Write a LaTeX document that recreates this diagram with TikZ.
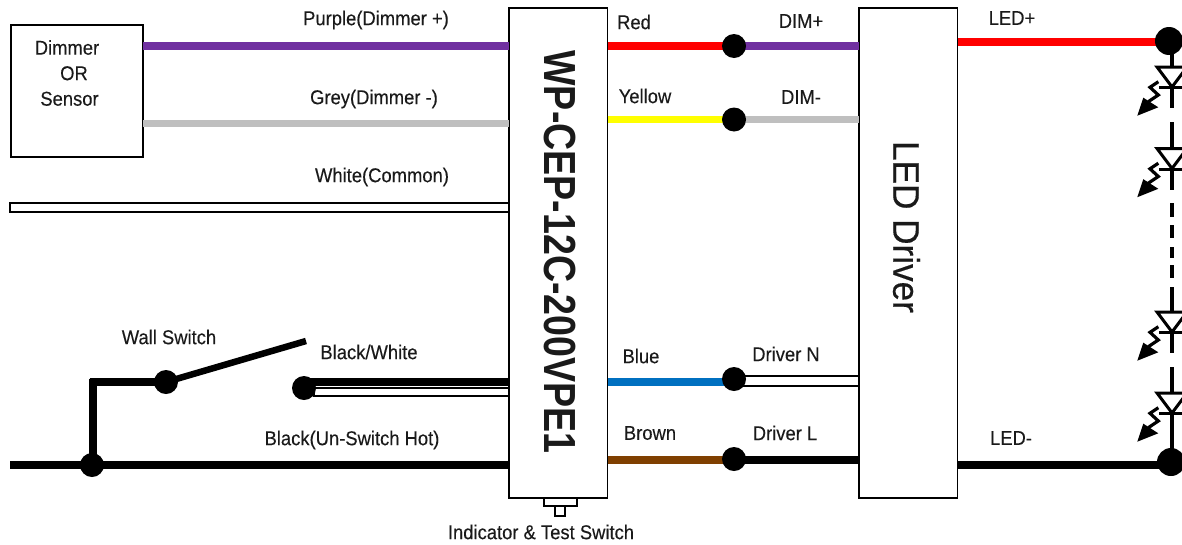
\documentclass[tikz,border=0pt]{standalone}
\usepackage{fontspec}
\setmainfont{Liberation Sans}
\newfontfamily\lblfont[FakeStretch=0.92,FakeBold=0.2]{Liberation Sans}
\newfontfamily\ttlfont[FakeStretch=0.835]{Liberation Sans}
\newfontfamily\drvfont[FakeStretch=0.95,FakeBold=0.4]{Liberation Sans}
\definecolor{wpurple}{HTML}{7030A0}
\definecolor{wgrey}{HTML}{BFBFBF}
\definecolor{wred}{HTML}{FF0000}
\definecolor{wyellow}{HTML}{FFFF00}
\definecolor{wblue}{HTML}{0070C0}
\definecolor{wbrown}{HTML}{7F3F00}
\definecolor{ink}{HTML}{1A1A1A}
\tikzset{
  box/.style={draw=black,line width=1.8pt,fill=white,inner sep=0pt,outer sep=0pt,anchor=north west},
  wire/.style={line width=7.5pt,line cap=butt},
  blackwire/.style={wire,draw=black,line width=8pt},
  hollow/.style={draw=black,fill=white,line width=2pt},
  dot/.style={circle,fill=black,inner sep=0pt,minimum size=24pt},
  bigdot/.style={circle,fill=black,inner sep=0pt,minimum size=28pt},
  lbl/.style={text=ink,inner sep=0pt,font=\lblfont\fontsize{20}{25.5}\selectfont},
  ledline/.style={draw=black,line width=3.4pt},
  ledsym/.pic={
    \draw[draw=black,line width=3pt,fill=white] (-15,0)--(15,0)--(0,20)--cycle;
    \draw[draw=black,line width=3pt] (-13,20.5)--(13,20.5);
    \draw[draw=black,line width=3.2pt] (-13.7,14.7)--(-22,20.3)--(-13.7,28)--(-23.7,34.7);
    \fill[black] (-34.7,48.7)--(-28.7,30.7)--(-13.7,40.3)--cycle;
  }
}
\begin{document}
\begin{tikzpicture}[x=1pt,y=-1pt]
\path[use as bounding box] (0,0) rectangle (1182,544);
\clip (0,0) rectangle (1182,544);
% boxes
\node[box,minimum width=132pt,minimum height=132pt] (dimmer) at (11,25) {};
\node[lbl,align=center] (dimmertext) at (67,73) {Dimmer\\\hspace*{14pt}OR\\\hspace*{5pt}Sensor};
\node[box,minimum width=98.5pt,minimum height=490pt] (wp) at (509,8) {};
\node[box,minimum width=98.5pt,minimum height=490pt] (drv) at (859,8) {};
\node[box,minimum width=33pt,minimum height=8pt] (btn) at (544,498) {};
\node[box,minimum width=10pt,minimum height=10pt] (btnb) at (555,506) {};
% named junction positions
\coordinate (dA) at (734,46);
\coordinate (dB) at (734,119.5);
\coordinate (dC) at (734,379);
\coordinate (dD) at (734,459);
\coordinate (tap) at (92,465);
\coordinate (swa) at (166,382);
\coordinate (swb) at (304,388);
\coordinate (top) at (1169,41);
\coordinate (bot) at (1171,462);
% left wires
\draw[wire,draw=wpurple] (dimmer.east |- dA) -- (wp.west |- dA);
\draw[wire,draw=wgrey] (dimmer.east |- 0,123.5) -- (wp.west |- 0,123.5);
\coordinate (wcommon) at (10,203);
\draw[hollow] (wcommon) rectangle (wp.west |- 0,212);
\coordinate (hot) at (10,465);
\draw[blackwire] (hot) -- (tap) -- (wp.west |- tap);
\coordinate (corner) at (93,382);
\draw[wire,draw=black] (tap -| corner) -- (corner |- 0,378.5);
\draw[wire,draw=black] (89.5,382) -- (swa);
\coordinate (blade) at (306,341);
\draw[wire,draw=black,line width=6.5pt] (swa) -- (blade);
\draw[hollow] (314,387.5) rectangle (wp.west |- 0,395.5);
\draw[blackwire] (swb |- 0,382) -- (wp.west |- 0,382);
% right of WP
\draw[wire,draw=wred] (wp.east |- dA) -- (dA);
\draw[wire,draw=wpurple] (dA) -- (drv.west |- dA);
\draw[wire,draw=wyellow] (wp.east |- dB) -- (dB);
\draw[wire,draw=wgrey] (dB) -- (drv.west |- dB);
\draw[wire,draw=wblue] (wp.east |- 0,382) -- (dC |- 0,382);
\draw[hollow] (dC |- 0,376) rectangle (drv.west |- 0,386);
\draw[wire,draw=wbrown] (wp.east |- 0,460) -- (dD |- 0,460);
\draw[wire,draw=black] (dD |- 0,460) -- (drv.west |- 0,460);
% output wires
\draw[wire,draw=wred,line width=8pt] (drv.east |- 0,42) -- (top |- 0,42);
\draw[blackwire] (drv.east |- 0,465) -- (bot |- 0,465);
% LED string
\coordinate (lx) at (1172,0);
\draw[ledline] (lx |- top) -- (lx |- 0,108);
\draw[ledline] (lx |- 0,122) -- (lx |- 0,190);
\draw[ledline] (lx |- 0,203) -- (lx |- 0,217);
\draw[ledline] (lx |- 0,225) -- (lx |- 0,238);
\draw[ledline] (lx |- 0,247) -- (lx |- 0,258);
\draw[ledline] (lx |- 0,265) -- (lx |- 0,278);
\draw[ledline] (lx |- 0,287) -- (lx |- 0,353);
\draw[ledline] (lx |- 0,367) -- (lx |- bot);
\pic at (1172,67) {ledsym};
\pic at (1172,148.5) {ledsym};
\pic at (1172,312) {ledsym};
\pic at (1172,393) {ledsym};
% dots on top
\node[dot] (ndA) at (dA) {};
\node[dot] (ndB) at (dB) {};
\node[dot] (ndC) at (dC) {};
\node[dot] (ndD) at (dD) {};
\node[dot] (ntap) at (tap) {};
\node[dot] (nswa) at (swa) {};
\node[dot] (nswb) at (swb) {};
\node[bigdot] (ntop) at (top) {};
\node[bigdot] (nbot) at (bot) {};
% titles
\node[text=ink,inner sep=0pt,rotate=-90,font=\ttlfont\bfseries\fontsize{45}{45}\selectfont] (wptitle) at (560,252) {WP-CEP-12C-200VPE1};
\node[text=ink,inner sep=0pt,rotate=-90,font=\drvfont\fontsize{37}{37}\selectfont] (drvtitle) at (906.5,227) {LED Driver};
% labels
\node[lbl] (l1) at (376,20) {Purple(Dimmer +)};
\node[lbl] (l2) at (374,99) {Grey(Dimmer -)};
\node[lbl] (l3) at (382,177) {White(Common)};
\node[lbl] (l4) at (634,22) {Red};
\node[lbl] (l5) at (645,96) {Yellow};
\node[lbl] (l6) at (801,21) {DIM+};
\node[lbl] (l7) at (801,97) {DIM-};
\node[lbl] (l8) at (1012,18) {LED+};
\node[lbl] (l9) at (169,337) {Wall Switch};
\node[lbl] (l10) at (369,352) {Black/White};
\node[lbl] (l11) at (352,440) {Black(Un-Switch Hot)};
\node[lbl] (l12) at (641,356) {Blue};
\node[lbl] (l13) at (650,433) {Brown};
\node[lbl] (l14) at (786,354) {Driver N};
\node[lbl] (l15) at (785,433) {Driver L};
\node[lbl] (l16) at (1011,438) {LED-};
\node[lbl] (l17) at (541,532) {Indicator \& Test Switch};
\end{tikzpicture}
\end{document}
